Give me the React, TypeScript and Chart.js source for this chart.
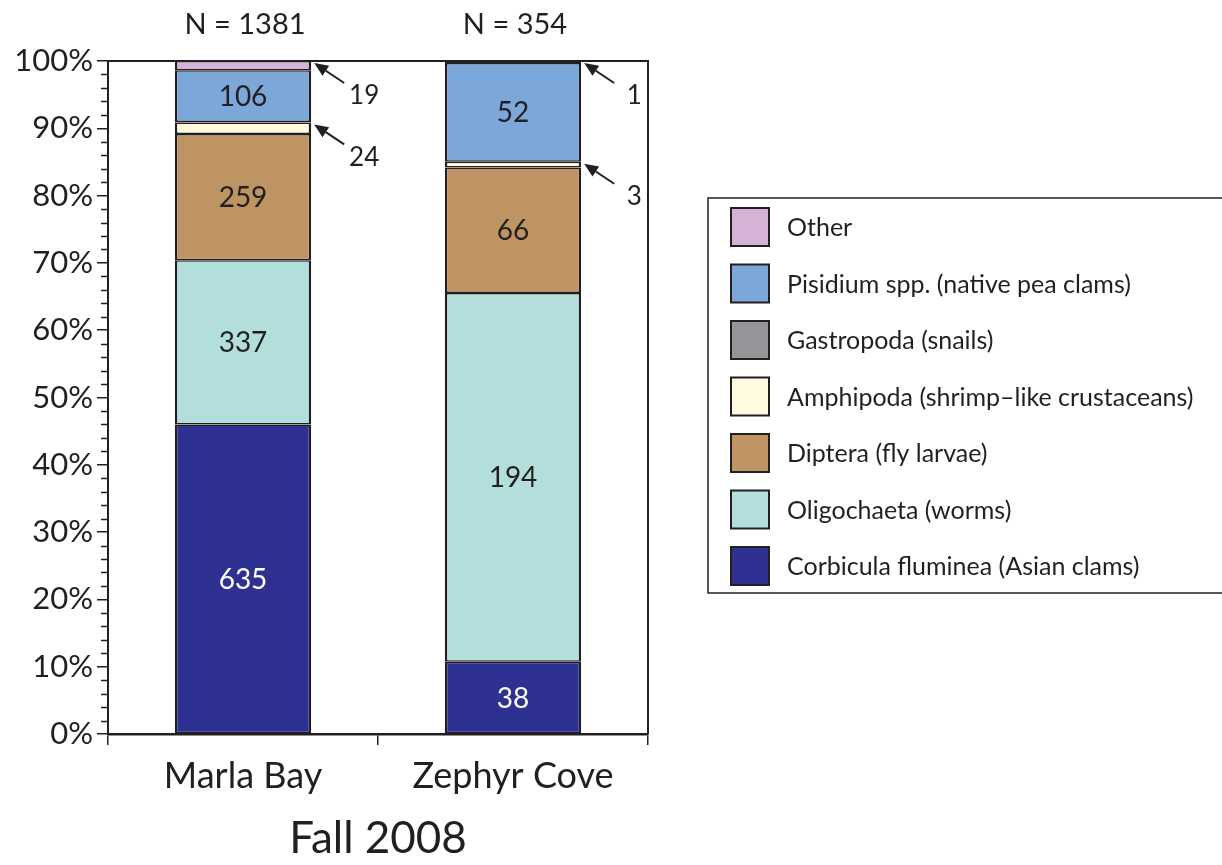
import React, { useEffect, useRef } from "react";
import { Chart, registerables } from "chart.js";

Chart.register(...registerables);

// Sampling sites and season
const sites = ["Marla Bay", "Zephyr Cove"];
const seasonLabel = "Fall 2008";

// Taxa, stacked bottom to top
const taxa = [
  "Corbicula fluminea (Asian clams)",
  "Oligochaeta (worms)",
  "Diptera (fly larvae)",
  "Amphipoda (shrimp–like crustaceans)",
  "Gastropoda (snails)",
  "Pisidium spp. (native pea clams)",
  "Other",
];

// Organism counts per site (Marla Bay, Zephyr Cove)
const corbicula = [635, 38];
const oligochaeta = [337, 194];
const diptera = [259, 66];
const amphipoda = [24, 3];
const gastropoda = [1, 0];
const pisidium = [106, 52];
const other = [19, 1];

const taxaColors = ["#2e3192", "#b2dfdc", "#bf9464", "#fffbe1", "#939598", "#7ba7d9", "#d5b3d6"];

// Small taxa labelled with an arrow beside the bar instead of inside it
const calloutTaxa = ["Amphipoda (shrimp–like crustaceans)", "Other"];

const yTickValues = [0, 10, 20, 30, 40, 50, 60, 70, 80, 90, 100];

const INK = "#231f20";
const FONT = "Lato, 'Open Sans', sans-serif";

const counts = [corbicula, oligochaeta, diptera, amphipoda, gastropoda, pisidium, other];
const totals = sites.map((_, i) => counts.reduce((s, c) => s + c[i], 0));

const annotations = {
  id: "annotations",
  afterDatasetsDraw(chart: any) {
    const { ctx, chartArea: a, scales } = chart;
    const y = scales.y;
    ctx.save();

    // frame on top and right of plot
    ctx.strokeStyle = INK;
    ctx.lineWidth = 2;
    ctx.beginPath();
    ctx.moveTo(a.left, a.top);
    ctx.lineTo(a.right, a.top);
    ctx.lineTo(a.right, a.bottom);
    ctx.stroke();

    // minor ticks every 2%
    ctx.lineWidth = 1.5;
    for (let v = 2; v < 100; v += 2) {
      if (v % 10 === 0) continue;
      const py = Math.round(y.getPixelForValue(v)) + 0.5;
      ctx.beginPath();
      ctx.moveTo(a.left - 7, py);
      ctx.lineTo(a.left, py);
      ctx.stroke();
    }

    ctx.textAlign = "center";
    ctx.textBaseline = "middle";

    chart.data.datasets.forEach((ds: any, d: number) => {
      const meta = chart.getDatasetMeta(d);
      meta.data.forEach((el: any, i: number) => {
        const n = counts[d][i];
        const pct = ds.data[i];
        const top = Math.min(el.y, el.base);
        if (pct >= 5) {
          ctx.fillStyle = d === 0 ? "#ffffff" : INK;
          ctx.font = `28px ${FONT}`;
          ctx.fillText(String(n), el.x, (el.y + el.base) / 2 + 1);
        } else if (n > 0 && calloutTaxa.includes(ds.label)) {
          const tipX = el.x + el.width / 2 + 3;
          const tipY = top + 2;
          const tailX = tipX + 30;
          const tailY = tipY + 20;
          const ang = Math.atan2(tipY - tailY, tipX - tailX);
          const hl = 14;
          const hw = 6;
          const bx = tipX - hl * Math.cos(ang);
          const by = tipY - hl * Math.sin(ang);
          ctx.strokeStyle = INK;
          ctx.fillStyle = INK;
          ctx.lineWidth = 2;
          ctx.beginPath();
          ctx.moveTo(tailX, tailY);
          ctx.lineTo(bx, by);
          ctx.stroke();
          ctx.beginPath();
          ctx.moveTo(tipX, tipY);
          ctx.lineTo(bx + hw * Math.sin(ang), by - hw * Math.cos(ang));
          ctx.lineTo(bx - hw * Math.sin(ang), by + hw * Math.cos(ang));
          ctx.closePath();
          ctx.fill();
          ctx.font = `26px ${FONT}`;
          ctx.fillText(String(n), tipX + 50, tipY + 33);
        }
      });
    });

    // sample sizes above bars
    const base = chart.getDatasetMeta(0);
    ctx.fillStyle = INK;
    ctx.font = `29px ${FONT}`;
    base.data.forEach((el: any, i: number) => {
      ctx.fillText(`N = ${totals[i]}`, el.x + 2, a.top - 36);
    });

    ctx.restore();
  },
  afterDraw(chart: any) {
    const { ctx } = chart;
    ctx.save();
    // legend box
    const bx = 708;
    const by = 198;
    const bw = 530;
    const bh = 395;
    ctx.strokeStyle = INK;
    ctx.lineWidth = 1.5;
    ctx.strokeRect(bx, by, bw, bh);
    const items = chart.data.datasets.slice().reverse();
    ctx.textAlign = "left";
    ctx.textBaseline = "middle";
    ctx.font = `25px ${FONT}`;
    items.forEach((ds: any, k: number) => {
      const sy = 208 + k * 56.5;
      ctx.fillStyle = ds.backgroundColor;
      ctx.fillRect(731, sy, 38, 38);
      ctx.lineWidth = 2;
      ctx.strokeStyle = INK;
      ctx.strokeRect(731, sy, 38, 38);
      ctx.fillStyle = INK;
      ctx.fillText(ds.label, 787, sy + 20);
    });
    ctx.restore();
  },
};

export default function App() {
  const ref = useRef<HTMLCanvasElement>(null);

  useEffect(() => {
    if (!ref.current) return;
    const chart = new Chart(ref.current, {
      type: "bar",
      data: {
        labels: sites,
        datasets: taxa.map((label, d) => ({
          label,
          data: counts[d].map((c, i) => (c / totals[i]) * 100),
          backgroundColor: taxaColors[d],
          borderColor: INK,
          borderWidth: { left: 2.5, right: 2.5, top: 1.5, bottom: 1.5 },
          borderSkipped: false,
          barPercentage: 0.505,
          categoryPercentage: 1,
        })),
      },
      options: {
        animation: false,
        responsive: false,
        layout: { padding: { top: 61, right: 574, left: 0, bottom: 0 } },
        plugins: { legend: { display: false }, tooltip: { enabled: false } },
        scales: {
          x: {
            stacked: true,
            grid: { drawOnChartArea: false, drawTicks: true, tickLength: 11, color: INK, lineWidth: 1.5, offset: true },
            border: { color: INK, width: 2.5 },
            ticks: { color: INK, font: { family: FONT, size: 36 }, padding: 10 },
            title: { display: true, text: seasonLabel, color: INK, font: { family: FONT, size: 44 }, padding: { top: 0, bottom: 0 } },
            afterFit: (s: any) => {
              s.height = 131;
            },
          },
          y: {
            stacked: true,
            min: 0,
            max: 100,
            afterBuildTicks: (s: any) => {
              s.ticks = yTickValues.map((v) => ({ value: v }));
            },
            grid: { drawOnChartArea: false, drawTicks: true, tickLength: 11, color: INK, lineWidth: 1.5 },
            border: { color: INK, width: 2 },
            ticks: { color: INK, font: { family: FONT, size: 31 }, padding: 4, callback: (v: any) => `${v}%` },
            afterFit: (s: any) => {
              s.width = 108;
            },
          },
        },
      },
      plugins: [annotations],
    });
    return () => chart.destroy();
  }, []);

  return (
    <div style={{ position: "absolute", left: 0, top: 0, width: 1222, height: 865, background: "#fff" }}>
      <canvas ref={ref} width={1222} height={865} />
    </div>
  );
}
